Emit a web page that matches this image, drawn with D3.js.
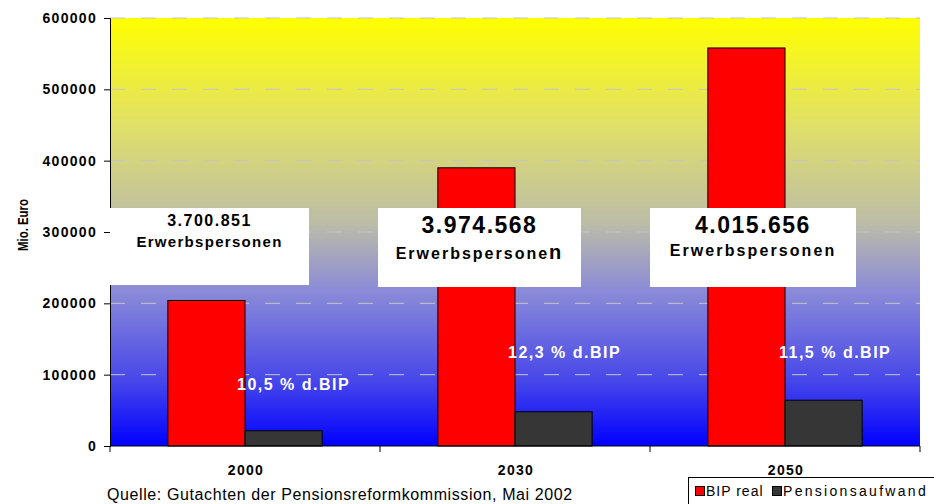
<!DOCTYPE html>
<html>
<head>
<meta charset="utf-8">
<script src="https://cdn.jsdelivr.net/npm/d3@7"></script>
<style>
  body { margin: 0; background: #fff; }
  svg { display: block; font-family: Arial, "Liberation Sans", sans-serif; }
  .tick-label { font-size: 14px; font-weight: bold; letter-spacing: 1.3px; }
  .box-num { font-weight: bold; }
  .box-sub { font-weight: bold; }
  .pct { fill: #fff; font-weight: bold; font-size: 16px; letter-spacing: 1.5px; }
</style>
</head>
<body>
<svg id="chart" width="934" height="504"></svg>
<script>
// data
let years = ['2000', '2030', '2050']
let bipReal = [204000, 390000, 558000]
let pension = [21400, 48000, 64200]
let workers = ['3.700.851', '3.974.568', '4.015.656']
let pctLabels = ['10,5 % d.BIP', '12,3 % d.BIP', '11,5 % d.BIP']
let yTicks = [0, 100000, 200000, 300000, 400000, 500000, 600000]
let seriesNames = ['BIP real', 'Pensionsaufwand']
let seriesColors = ['#ff0000', '#363636']

let svg = d3.select('#chart')

let plotLeft = 110, plotRight = 920, plotTop = 18, plotBottom = 446

let x = d3.scaleBand()
  .domain(years)
  .range([plotLeft, plotRight])

// bars inside a band, gap width ~150%
let inner = d3.scaleBand()
  .domain([0, 1])
  .range([0, x.bandwidth()])
  .paddingOuter(0.75)
  .paddingInner(0)

let y = d3.scaleLinear()
  .domain([0, 600000])
  .range([plotBottom, plotTop])

// plot background gradient
let defs = svg.append('defs')
let grad = defs.append('linearGradient')
  .attr('id', 'bg')
  .attr('x1', 0).attr('y1', 0).attr('x2', 0).attr('y2', 1)
let stops = [
  [0, '#ffff00'], [0.25, '#e0e068'], [0.48, '#bcbca8'],
  [0.64, '#8a8ad8'], [0.85, '#4646ea'], [1, '#0000ff']
]
grad.selectAll('stop')
  .data(stops)
  .enter()
  .append('stop')
  .attr('offset', d => d[0])
  .attr('stop-color', d => d[1])

svg.append('rect')
  .attr('x', plotLeft)
  .attr('y', plotTop)
  .attr('width', plotRight - plotLeft)
  .attr('height', plotBottom - plotTop)
  .attr('fill', 'url(#bg)')

// grid lines
svg.selectAll('.grid')
  .data(yTicks.slice(1))
  .enter()
  .append('line')
  .attr('x1', plotLeft)
  .attr('x2', plotRight)
  .attr('y1', d => y(d))
  .attr('y2', d => y(d))
  .attr('stroke', '#c4c4c4')
  .attr('stroke-dasharray', '15,16')

// bars
let groups = svg.selectAll('.group')
  .data(years)
  .enter()
  .append('g')
  .attr('transform', d => `translate(${x(d)},0)`)

groups.each(function (d, i) {
  let vals = [bipReal[i], pension[i]]
  d3.select(this).selectAll('rect')
    .data(vals)
    .enter()
    .append('rect')
    .attr('x', (v, j) => inner(j))
    .attr('width', inner.bandwidth())
    .attr('y', v => y(v))
    .attr('height', v => y(0) - y(v))
    .attr('fill', (v, j) => seriesColors[j])
    .attr('stroke', '#000')
    .attr('stroke-width', 1)
})

// axes
let yAxis = d3.axisLeft(y)
  .tickValues(yTicks)
  .tickFormat(d3.format('d'))
  .tickSize(6)
  .tickPadding(7)

svg.append('g')
  .attr('transform', `translate(${plotLeft},0)`)
  .call(yAxis)
  .call(g => g.select('.domain').attr('stroke', '#000'))
  .call(g => g.selectAll('.tick line').attr('stroke', '#000'))
  .call(g => g.selectAll('text').classed('tick-label', true)
    .attr('fill', '#000').style('font-family', 'Arial, "Liberation Sans", sans-serif'))

svg.append('line')
  .attr('x1', plotLeft).attr('x2', plotRight)
  .attr('y1', plotBottom).attr('y2', plotBottom)
  .attr('stroke', '#000')

// x boundary ticks
svg.selectAll('.xtick')
  .data(years.map(d => x(d)).concat([plotRight]))
  .enter()
  .append('line')
  .attr('x1', d => d).attr('x2', d => d)
  .attr('y1', plotBottom).attr('y2', plotBottom + 6)
  .attr('stroke', '#000')

svg.selectAll('.xlabel')
  .data(years)
  .enter()
  .append('text')
  .attr('x', d => x(d) + x.bandwidth() / 2 + 1)
  .attr('y', 475)
  .attr('text-anchor', 'middle')
  .attr('class', 'tick-label')
  .text(d => d)

// y axis title
svg.append('text')
  .attr('transform', 'translate(28,225) rotate(-90)')
  .attr('text-anchor', 'middle')
  .attr('textLength', 52)
  .attr('lengthAdjust', 'spacingAndGlyphs')
  .style('font-size', '14px')
  .style('font-weight', 'bold')
  .text('Mio. Euro')

// annotation boxes
let boxW = [199, 203, 206]
let boxH = [77, 79, 79]
let numSize = [16, 23, 23]
let numY = [226, 233, 233]
let subSize = [15, 16, 16]
let subSpacing = [1.3, 2, 2.1]
let subY = [247, 259, 256]
let boxDx = [0, -2, 0]

years.forEach((yr, i) => {
  let bx = x(yr) + boxDx[i]
  let g = svg.append('g')
  g.append('rect')
    .attr('x', bx)
    .attr('y', 208)
    .attr('width', boxW[i])
    .attr('height', boxH[i])
    .attr('fill', '#fff')
  g.append('text')
    .attr('class', 'box-num')
    .attr('x', bx + boxW[i] / 2)
    .attr('y', numY[i])
    .attr('text-anchor', 'middle')
    .style('font-size', numSize[i] + 'px')
    .style('letter-spacing', '1.5px')
    .text(workers[i])
  let sub = g.append('text')
    .attr('class', 'box-sub')
    .attr('x', bx + boxW[i] / 2)
    .attr('y', subY[i])
    .attr('text-anchor', 'middle')
    .style('font-size', subSize[i] + 'px')
    .style('letter-spacing', subSpacing[i] + 'px')
  if (i === 1) {
    sub.append('tspan').text('Erwerbspersone')
    sub.append('tspan').style('font-size', '20px').text('n')
  } else {
    sub.text('Erwerbspersonen')
  }
})

// percentage labels
let pctX = [237, 508, 779]
let pctY = [390, 358, 358]
svg.selectAll('.pct')
  .data(pctLabels)
  .enter()
  .append('text')
  .attr('class', 'pct')
  .attr('x', (d, i) => pctX[i])
  .attr('y', (d, i) => pctY[i])
  .text(d => d)

// source note
svg.append('text')
  .attr('x', 107)
  .attr('y', 500)
  .style('font-size', '16px')
  .style('letter-spacing', '0.6px')
  .text('Quelle: Gutachten der Pensionsreformkommission, Mai 2002')

// legend
let legend = svg.append('g')
legend.append('rect')
  .attr('x', 688.5)
  .attr('y', 477.5)
  .attr('width', 260)
  .attr('height', 40)
  .attr('fill', '#fff')
  .attr('stroke', '#000')

let legX = [695, 772]
let legSpacing = [1, 2.3]
seriesNames.forEach((name, i) => {
  legend.append('rect')
    .attr('x', legX[i] + 0.5)
    .attr('y', 486.5)
    .attr('width', 9)
    .attr('height', 9)
    .attr('fill', seriesColors[i])
    .attr('stroke', '#000')
  legend.append('text')
    .attr('x', legX[i] + 11)
    .attr('y', 496)
    .style('font-size', '14px')
    .style('letter-spacing', legSpacing[i] + 'px')
    .text(name)
})
</script>
</body>
</html>
